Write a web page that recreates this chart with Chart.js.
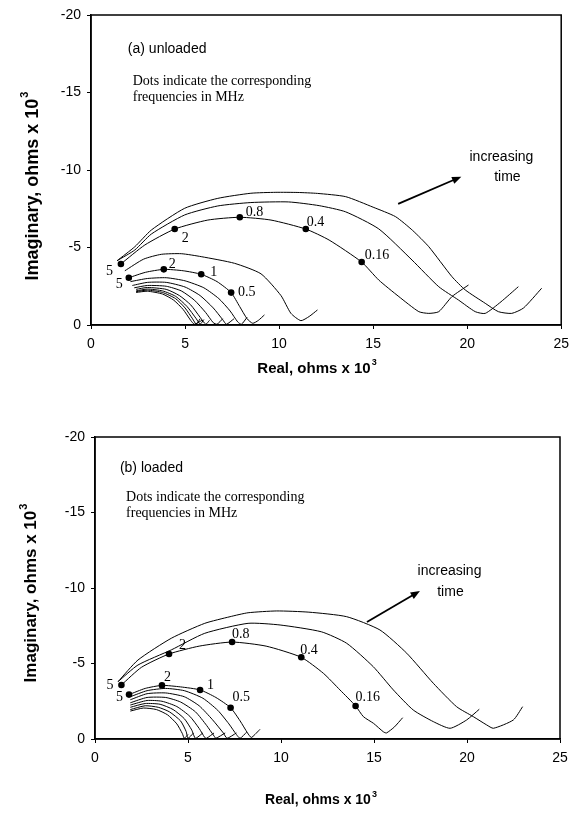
<!DOCTYPE html>
<html>
<head>
<meta charset="utf-8">
<script src="https://cdn.jsdelivr.net/npm/chart.js@4.4.1/dist/chart.umd.min.js"></script>
<style>
  html, body { margin: 0; padding: 0; background: #fff; }
  #wrap { position: relative; width: 576px; height: 822px; }
  canvas { position: absolute; left: 0; }
  #chartA { top: 0; }
  #chartB { top: 390px; }
</style>
</head>
<body>
<div id="wrap">
  <canvas id="chartA" width="576" height="390"></canvas>
  <canvas id="chartB" width="576" height="432"></canvas>
</div>
<script>
const X_TICKS = [0, 5, 10, 15, 20, 25];
const Y_TICKS = [-20, -15, -10, -5, 0];

// (a) unloaded -- [real, imaginary] in ohms x 10^3
const A_OUTER_TOP = [[1.39,-4.15],[2.33,-5.05],[3.21,-6.13],[4.98,-7.53],[6.74,-8.17],[8.5,-8.5],[9.83,-8.56],[11.0,-8.55],[12.04,-8.49],[13.54,-8.28],[15.0,-7.6],[16.19,-6.99],[17.1,-6.1],[17.96,-5.05],[19.19,-3.12],[19.9,-2.26],[20.96,-1.4],[21.66,-0.86],[22.37,-0.75],[23.0,-1.1],[23.96,-2.37]];
const A_OUTER_MID = [[1.39,-4.15],[2.33,-4.84],[3.21,-5.87],[4.98,-7.1],[6.74,-7.68],[8.5,-7.9],[10.5,-7.94],[12.13,-7.7],[13.54,-7.3],[15.3,-6.2],[17.07,-4.19],[18.49,-2.47],[19.54,-1.61],[20.43,-0.86],[20.96,-0.75],[21.8,-1.5],[22.72,-2.47]];
const A_OUTER_DOT = [[1.59,-3.94],[2.86,-5.16],[4.45,-6.19],[6.21,-6.77],[7.91,-6.95],[9.57,-6.77],[11.42,-6.19],[12.66,-5.48],[14.39,-4.06],[15.3,-2.9],[16.37,-1.83],[17.43,-0.86],[17.96,-0.75],[18.49,-0.86],[19.19,-1.83],[20.07,-2.58]];
const A_MIDDLE = [[1.8,-3.5],[2.8,-4.25],[3.74,-4.56],[4.8,-4.6],[5.86,-4.41],[7.63,-3.98],[9.04,-3.3],[10.1,-1.9],[10.63,-0.75],[11.16,-0.28],[11.6,-0.55],[12.04,-0.97]];
const A_INNER_DOT = [[2.01,-3.05],[2.9,-3.4],[3.87,-3.59],[4.9,-3.5],[5.86,-3.27],[6.7,-2.8],[7.45,-2.09],[7.9,-1.2],[8.3,-0.4],[8.6,-0.11],[8.9,-0.3],[9.22,-0.65]];
const A_INNER = [
  [[2.1,-2.8],[3.0,-3.0],[4.0,-3.05],[5.0,-2.85],[6.0,-2.4],[6.8,-1.7],[7.4,-0.9],[7.8,-0.2],[8.0,-0.05],[8.3,-0.5]],
  [[2.2,-2.55],[3.0,-2.75],[4.0,-2.75],[5.0,-2.45],[5.8,-1.9],[6.5,-1.1],[7.0,-0.35],[7.2,-0.05],[7.6,-0.4]],
  [[2.3,-2.4],[3.0,-2.55],[4.0,-2.5],[4.8,-2.2],[5.5,-1.6],[6.1,-0.8],[6.5,-0.15],[6.7,-0.05],[7.0,-0.4]],
  [[2.4,-2.3],[3.0,-2.42],[4.0,-2.3],[4.7,-1.9],[5.3,-1.3],[5.8,-0.5],[6.1,-0.05],[6.3,-0.3]],
  [[2.4,-2.2],[3.0,-2.32],[3.8,-2.2],[4.5,-1.85],[5.1,-1.2],[5.6,-0.4],[5.8,-0.05],[6.0,-0.35]],
  [[2.4,-2.15],[3.0,-2.25],[3.8,-2.1],[4.5,-1.7],[5.0,-1.1],[5.4,-0.4],[5.6,-0.05],[5.8,-0.4]],
  [[2.4,-2.1],[3.0,-2.18],[3.8,-2.0],[4.4,-1.6],[4.9,-1.0],[5.3,-0.3],[5.5,-0.05],[5.9,-0.3]]
];
const A_FREQ_X = [1.59, 4.45, 7.91, 11.42, 14.39, 2.01, 3.87, 5.86, 7.45];
const A_FREQ_Y = [-3.94, -6.19, -6.95, -6.19, -4.06, -3.05, -3.59, -3.27, -2.09];
const A_FREQ_MHZ = ["5", "2", "0.8", "0.4", "0.16", "5", "2", "1", "0.5"];

// (b) loaded
const B_OUTER_TOP = [[1.24,-3.8],[2.31,-5.23],[4.1,-6.67],[5.9,-7.66],[7.26,-8.1],[8.23,-8.36],[9.77,-8.48],[11.5,-8.4],[13.53,-8.1],[15.32,-7.22],[16.76,-5.68],[18.19,-3.69],[19.44,-2.14],[20.34,-1.48],[21.06,-0.93],[21.42,-0.71],[22.49,-1.26],[22.99,-2.14]];
const B_OUTER_MID = [[1.24,-3.8],[2.31,-4.9],[4.1,-5.9],[5.9,-7.0],[8.23,-7.66],[9.95,-7.55],[12.17,-7.1],[13.53,-6.34],[14.96,-4.79],[16.04,-3.25],[17.11,-1.92],[18.19,-1.15],[19.09,-0.71],[19.98,-1.26],[20.66,-1.97]];
const B_OUTER_DOT = [[1.42,-3.58],[2.5,-4.75],[3.98,-5.63],[5.6,-6.15],[7.37,-6.42],[9.2,-6.15],[11.09,-5.41],[12.28,-4.35],[13.17,-3.25],[14.01,-2.19],[14.43,-1.48],[14.97,-1.04],[15.5,-0.48],[15.67,-0.4],[16.1,-0.8],[16.54,-1.41]];
const B_INNER_DOT = [[1.83,-2.94],[2.7,-3.35],[3.6,-3.55],[4.6,-3.45],[5.65,-3.25],[6.5,-2.75],[7.29,-2.07],[7.8,-1.2],[8.2,-0.4],[8.4,-0.1],[8.6,-0.3],[8.87,-0.64]];
const B_INNER = [
  [[1.9,-2.8],[2.8,-3.2],[3.8,-3.35],[4.8,-3.2],[5.8,-2.7],[6.6,-1.9],[7.2,-1.0],[7.6,-0.3],[7.8,-0.05],[8.15,-0.45]],
  [[1.9,-2.6],[2.8,-3.0],[3.8,-3.05],[4.8,-2.8],[5.6,-2.2],[6.3,-1.3],[6.9,-0.4],[7.1,-0.05],[7.6,-0.4]],
  [[1.9,-2.4],[2.8,-2.75],[3.8,-2.75],[4.6,-2.45],[5.4,-1.8],[6.0,-0.9],[6.4,-0.2],[6.5,-0.05],[7.0,-0.4]],
  [[1.9,-2.25],[2.8,-2.55],[3.6,-2.5],[4.4,-2.15],[5.1,-1.5],[5.6,-0.7],[5.9,-0.1],[6.0,-0.05],[6.4,-0.4]],
  [[1.9,-2.1],[2.7,-2.35],[3.5,-2.3],[4.2,-1.95],[4.8,-1.35],[5.2,-0.6],[5.4,-0.05],[5.8,-0.4]],
  [[1.9,-1.95],[2.7,-2.2],[3.4,-2.1],[4.0,-1.8],[4.6,-1.2],[4.9,-0.5],[5.0,-0.05],[5.3,-0.4]],
  [[1.9,-1.85],[2.6,-2.05],[3.3,-1.95],[3.9,-1.6],[4.4,-1.0],[4.7,-0.35],[4.8,-0.05],[5.0,-0.3]]
];
const B_FREQ_X = [1.42, 3.98, 7.37, 11.09, 14.01, 1.83, 3.6, 5.65, 7.29];
const B_FREQ_Y = [-3.58, -5.63, -6.42, -5.41, -2.19, -2.94, -3.55, -3.25, -2.07];
const B_FREQ_MHZ = ["5", "2", "0.8", "0.4", "0.16", "5", "2", "1", "0.5"];

const SANS = "'Liberation Sans', Arial, Helvetica, sans-serif";
const SERIF = "'Liberation Serif', 'Times New Roman', serif";

function toPoints(pairs) {
  return pairs.map(([x, y]) => ({ x, y }));
}

function curve(pairs) {
  return {
    data: toPoints(pairs),
    showLine: true,
    borderColor: "#000",
    borderWidth: 1,
    pointRadius: 0,
    tension: 0.2,
    fill: false
  };
}

function dotSet(xs, ys, labels) {
  return {
    data: xs.map((x, i) => ({ x, y: ys[i] })),
    freq: labels,
    showLine: false,
    pointRadius: 3.3,
    pointBackgroundColor: "#000",
    pointBorderColor: "#000",
    pointBorderWidth: 0
  };
}

// draws frame, dot labels, notes, arrow and the axis titles
const paperPlugin = {
  id: "paper",
  afterDraw(chart, args, opts) {
    const { ctx, chartArea: area, scales } = chart;
    const px = (v) => scales.x.getPixelForValue(v);
    const py = (v) => scales.y.getPixelForValue(v);
    ctx.save();
    ctx.strokeStyle = "#000";
    ctx.lineWidth = 1.5;
    ctx.strokeRect(area.left, area.top, area.right - area.left, area.bottom - area.top);

    // frequency labels next to dots
    chart.data.datasets.forEach((ds, i) => {
      if (!ds.freq) return;
      const meta = chart.getDatasetMeta(i);
      ctx.font = `14px ${SERIF}`;
      ctx.fillStyle = "#000";
      ctx.textBaseline = "middle";
      meta.data.forEach((pt, j) => {
        const [dx, dy, align] = opts.labelOffsets[j];
        ctx.textAlign = align;
        ctx.fillText(ds.freq[j], pt.x + dx, pt.y + dy);
      });
    });

    // panel notes
    ctx.textBaseline = "middle";
    opts.notes.forEach((n) => {
      ctx.font = n.font;
      ctx.textAlign = n.align;
      ctx.fillText(n.text, px(n.x), py(n.y));
    });

    // arrow
    const [x1, y1, x2, y2] = opts.arrow;
    const ax = px(x1), ay = py(y1), bx = px(x2), by = py(y2);
    const ang = Math.atan2(by - ay, bx - ax);
    ctx.lineWidth = 1.8;
    ctx.beginPath();
    ctx.moveTo(ax, ay);
    ctx.lineTo(bx - 4 * Math.cos(ang), by - 4 * Math.sin(ang));
    ctx.stroke();
    ctx.beginPath();
    ctx.moveTo(bx, by);
    ctx.lineTo(bx - 10 * Math.cos(ang - 0.38), by - 10 * Math.sin(ang - 0.38));
    ctx.lineTo(bx - 10 * Math.cos(ang + 0.38), by - 10 * Math.sin(ang + 0.38));
    ctx.closePath();
    ctx.fill();

    // axis titles with superscript 3
    drawSupTitle(ctx, "Real, ohms x 10", opts.xTitle.x, opts.xTitle.y, opts.xTitle.size, 0);
    drawSupTitle(ctx, "Imaginary, ohms x 10", opts.yTitle.x, opts.yTitle.y, opts.yTitle.size, -Math.PI / 2);
    ctx.restore();
  }
};

function drawSupTitle(ctx, text, cx, cy, size, rot) {
  ctx.save();
  ctx.translate(cx, cy);
  ctx.rotate(rot);
  ctx.fillStyle = "#000";
  ctx.textBaseline = "middle";
  ctx.textAlign = "left";
  ctx.font = `bold ${size}px ${SANS}`;
  const w = ctx.measureText(text).width;
  const supSize = Math.round(size * 0.62);
  ctx.font = `bold ${supSize}px ${SANS}`;
  const ws = ctx.measureText("3").width;
  const start = -(w + ws + 1) / 2;
  ctx.font = `bold ${size}px ${SANS}`;
  ctx.fillText(text, start, 0);
  ctx.font = `bold ${supSize}px ${SANS}`;
  ctx.fillText("3", start + w + 1, -size * 0.42);
  ctx.restore();
}

function makeChart(id, datasets, layout, paper) {
  const tickFont = { family: SANS, size: 14 };
  return new Chart(document.getElementById(id), {
    type: "scatter",
    data: { datasets },
    options: {
      responsive: false,
      animation: false,
      layout: { padding: layout.padding },
      plugins: { legend: { display: false }, tooltip: { enabled: false }, paper },
      scales: {
        x: {
          type: "linear",
          min: 0,
          max: 25,
          afterBuildTicks(scale) { scale.ticks = X_TICKS.map((v) => ({ value: v })); },
          afterFit(scale) { scale.height = layout.xHeight; },
          ticks: { color: "#000", font: tickFont, padding: 7 },
          grid: { drawOnChartArea: false, tickLength: 4, color: "#000" },
          border: { color: "#000", width: 1.5 }
        },
        y: {
          type: "linear",
          min: -20,
          max: 0,
          reverse: true,
          afterBuildTicks(scale) { scale.ticks = Y_TICKS.map((v) => ({ value: v })); },
          afterFit(scale) { scale.width = layout.yWidth; },
          ticks: { color: "#000", font: tickFont, padding: 6 },
          grid: { drawOnChartArea: false, tickLength: 4, color: "#000" },
          border: { color: "#000", width: 1.5 }
        }
      }
    },
    plugins: [paperPlugin]
  });
}

const noteFont = `14px ${SANS}`;
const dotNoteFont = `14px ${SERIF}`;

makeChart(
  "chartA",
  [
    dotSet(A_FREQ_X, A_FREQ_Y, A_FREQ_MHZ),
    curve(A_OUTER_TOP),
    curve(A_OUTER_MID),
    curve(A_OUTER_DOT),
    curve(A_MIDDLE),
    curve(A_INNER_DOT),
    ...A_INNER.map(curve)
  ],
  { padding: { top: 15, right: 13, left: 0, bottom: 0 }, xHeight: 65, yWidth: 91 },
  {
    labelOffsets: [[-8, 7, "right"], [7, 9, "left"], [6, -5, "left"], [1, -7, "left"], [3, -7, "left"],
                   [-6, 7, "right"], [5, -5, "left"], [9, -2, "left"], [7, 0, "left"]],
    notes: [
      { text: "(a) unloaded", x: 1.96, y: -17.8, align: "left", font: noteFont },
      { text: "Dots indicate the corresponding", x: 2.22, y: -15.74, align: "left", font: dotNoteFont },
      { text: "frequencies in MHz", x: 2.22, y: -14.71, align: "left", font: dotNoteFont },
      { text: "increasing", x: 21.82, y: -10.84, align: "center", font: noteFont },
      { text: "time", x: 22.14, y: -9.55, align: "center", font: noteFont }
    ],
    arrow: [16.33, -7.81, 19.69, -9.57],
    xTitle: { x: 317, y: 369, size: 15 },
    yTitle: { x: 33, y: 186, size: 18 }
  }
);

makeChart(
  "chartB",
  [
    dotSet(B_FREQ_X, B_FREQ_Y, B_FREQ_MHZ),
    curve(B_OUTER_TOP),
    curve(B_OUTER_MID),
    curve(B_OUTER_DOT),
    curve(B_INNER_DOT),
    ...B_INNER.map(curve)
  ],
  { padding: { top: 47, right: 16, left: 0, bottom: 0 }, xHeight: 83, yWidth: 95 },
  {
    labelOffsets: [[-8, 0, "right"], [10, -9, "left"], [0, -8, "left"], [-1, -7, "left"], [0, -9, "left"],
                   [-6, 3, "right"], [2, -8, "left"], [7, -5, "left"], [2, -10, "left"]],
    notes: [
      { text: "(b) loaded", x: 1.34, y: -17.95, align: "left", font: noteFont },
      { text: "Dots indicate the corresponding", x: 1.67, y: -16.03, align: "left", font: dotNoteFont },
      { text: "frequencies in MHz", x: 1.67, y: -14.97, align: "left", font: dotNoteFont },
      { text: "increasing", x: 19.06, y: -11.13, align: "center", font: noteFont },
      { text: "time", x: 19.11, y: -9.74, align: "center", font: noteFont }
    ],
    arrow: [14.62, -7.75, 17.47, -9.8],
    xTitle: { x: 321, y: 410, size: 14 },
    yTitle: { x: 31, y: 203, size: 17 }
  }
);
</script>
</body>
</html>
